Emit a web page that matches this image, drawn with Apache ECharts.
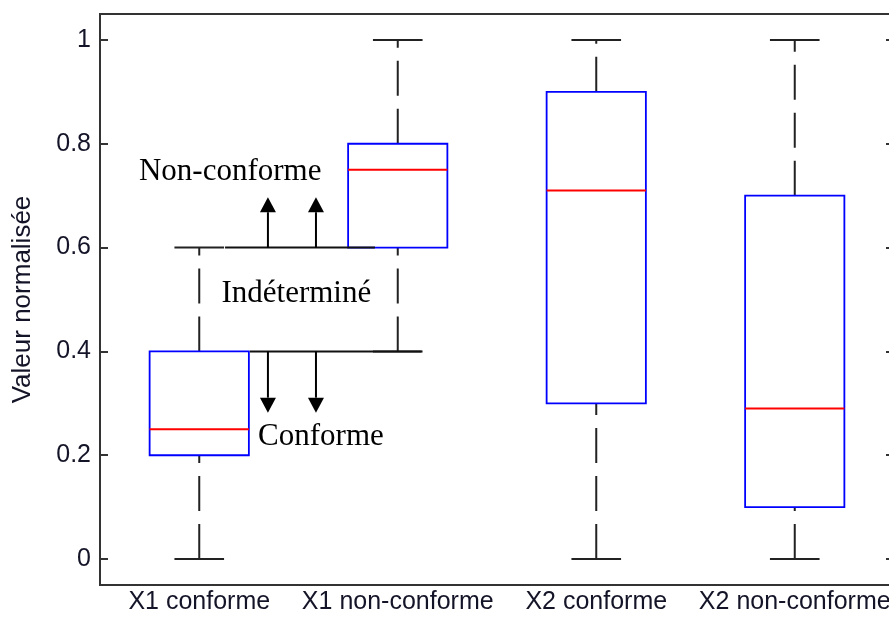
<!DOCTYPE html>
<html>
<head>
<meta charset="utf-8">
<script src="https://cdn.jsdelivr.net/npm/echarts@6/dist/echarts.min.js"></script>
<style>html,body{margin:0;padding:0;background:#fff;overflow:hidden;}#c{width:889px;height:618px;}</style>
</head>
<body>
<div id="c"></div>
<script>
// ---- data ----
const categories = ['X1 conforme', 'X1 non-conforme', 'X2 conforme', 'X2 non-conforme'];
const whiskerMin = [0, 0.4, 0, 0];
const q1 = [0.2, 0.6, 0.3, 0.1];
const median = [0.25, 0.75, 0.71, 0.29];
const q3 = [0.4, 0.8, 0.9, 0.7];
const whiskerMax = [0.6, 1, 1, 1];
const yTicks = [0, 0.2, 0.4, 0.6, 0.8, 1];
const yTickLabels = ['0', '0.2', '0.4', '0.6', '0.8', '1'];
const yAxisTitle = 'Valeur normalisée';

// annotation: threshold lines [xStart, xEnd, y] (x in category units, 1 = first category)
const thresholdLines = [[1.13, 1.885, 0.6], [1.255, 2.12, 0.4]];
// arrows [x, yFrom, yTo]
const arrows = [[1.346, 0.6, 0.697], [1.588, 0.6, 0.697], [1.346, 0.4, 0.282], [1.588, 0.4, 0.282]];
// annotation texts
const annotationTexts = ['Non-conforme', 'Indéterminé', 'Conforme'];
const annotationX = [1.156, 1.489, 1.613];
const annotationY = [0.745, 0.51, 0.235];

const boxData = categories.map((c, i) => [i + 1, whiskerMin[i], q1[i], median[i], q3[i], whiskerMax[i]]);

const chart = echarts.init(document.getElementById('c'), null, {renderer: 'canvas'});
const sans = 'Liberation Sans, Arial, sans-serif';
const serif = 'Liberation Serif, Times New Roman, serif';

const option = {
  backgroundColor: '#fff',
  animation: false,
  grid: {left: 100, width: 794, top: 14, bottom: 33, containLabel: false, outerBoundsMode: 'none',
         show: true, borderColor: '#333', borderWidth: 2, backgroundColor: 'transparent'},
  xAxis: {
    type: 'value', min: 0.5, max: 4.5,
    axisLine: {show: false}, axisTick: {show: false}, splitLine: {show: false},
    axisLabel: {
      customValues: [1, 2, 3, 4],
      formatter: v => categories[Math.round(v) - 1],
      fontFamily: sans, fontSize: 25, color: '#141428', margin: 5, hideOverlap: false
    }
  },
  yAxis: [{
    type: 'value', min: -0.05, max: 1.05,
    axisLine: {show: false}, splitLine: {show: false},
    axisTick: {show: true, inside: true, length: 8, customValues: yTicks, lineStyle: {color: '#333', width: 2}},
    axisLabel: {
      customValues: yTicks,
      formatter: v => { const i = yTicks.findIndex(t => Math.abs(t - v) < 1e-6); return i >= 0 ? yTickLabels[i] : ''; },
      fontFamily: sans, fontSize: 25, color: '#141428', margin: 9
    },
    name: yAxisTitle, nameLocation: 'middle', nameGap: 64,
    nameTextStyle: {fontFamily: sans, fontSize: 26, color: '#141428'}
  }, {
    type: 'value', min: -0.05, max: 1.05, position: 'right',
    axisLine: {show: false}, splitLine: {show: false},
    axisTick: {show: true, inside: true, length: 8, customValues: yTicks, lineStyle: {color: '#333', width: 2}},
    axisLabel: {show: false}
  }],
  series: [
    {
      type: 'custom',
      data: boxData,
      z: 2,
      renderItem: function (params, api) {
        const x = api.value(0), mn = api.value(1), a = api.value(2), md = api.value(3), b = api.value(4), mx = api.value(5);
        const p = (u, v) => api.coord([u, v]);
        const line = (P, Q, style) => ({type: 'line', shape: {x1: P[0], y1: P[1], x2: Q[0], y2: Q[1]}, style: style});
        const whisk = {stroke: '#222', lineWidth: 2, lineDash: [35, 13]};
        const solid = {stroke: '#222', lineWidth: 2};
        const tl = p(x - 0.25, b), br = p(x + 0.25, a);
        return {
          type: 'group',
          children: [
            line(p(x, mn), p(x, a), whisk),
            line(p(x, b), p(x, mx), whisk),
            line(p(x - 0.125, mn), p(x + 0.125, mn), solid),
            line(p(x - 0.125, mx), p(x + 0.125, mx), solid),
            {type: 'rect', shape: {x: tl[0], y: tl[1], width: br[0] - tl[0], height: br[1] - tl[1]}, style: {fill: null, stroke: '#0000ff', lineWidth: 1.8}},
            line(p(x - 0.25, md), p(x + 0.25, md), {stroke: '#ff0000', lineWidth: 1.8})
          ]
        };
      }
    },
    {
      type: 'custom',
      data: thresholdLines,
      z: 3,
      renderItem: function (params, api) {
        const P = api.coord([api.value(0), api.value(2)]);
        const Q = api.coord([api.value(1), api.value(2)]);
        return {type: 'line', shape: {x1: P[0], y1: P[1], x2: Q[0], y2: Q[1]}, style: {stroke: '#111', lineWidth: 2}};
      }
    },
    {
      type: 'custom',
      data: arrows,
      z: 3,
      renderItem: function (params, api) {
        const P = api.coord([api.value(0), api.value(1)]);
        const T = api.coord([api.value(0), api.value(2)]);
        const dir = T[1] < P[1] ? -1 : 1;
        const headLen = 15, headHalf = 8;
        const base = T[1] - dir * headLen;
        return {
          type: 'group',
          children: [
            {type: 'line', shape: {x1: P[0], y1: P[1], x2: T[0], y2: base}, style: {stroke: '#000', lineWidth: 2}},
            {type: 'polygon', shape: {points: [[T[0], T[1]], [T[0] - headHalf, base], [T[0] + headHalf, base]]}, style: {fill: '#000'}}
          ]
        };
      }
    },
    {
      type: 'custom',
      data: annotationTexts.map((t, i) => [annotationX[i], annotationY[i], i]),
      z: 4,
      renderItem: function (params, api) {
        const P = api.coord([api.value(0), api.value(1)]);
        return {
          type: 'text',
          style: {text: annotationTexts[api.value(2)], x: P[0], y: P[1], align: 'center', verticalAlign: 'middle', font: '31px ' + serif, fill: '#000'}
        };
      }
    }
  ]
};
chart.setOption(option);
</script>
</body>
</html>
